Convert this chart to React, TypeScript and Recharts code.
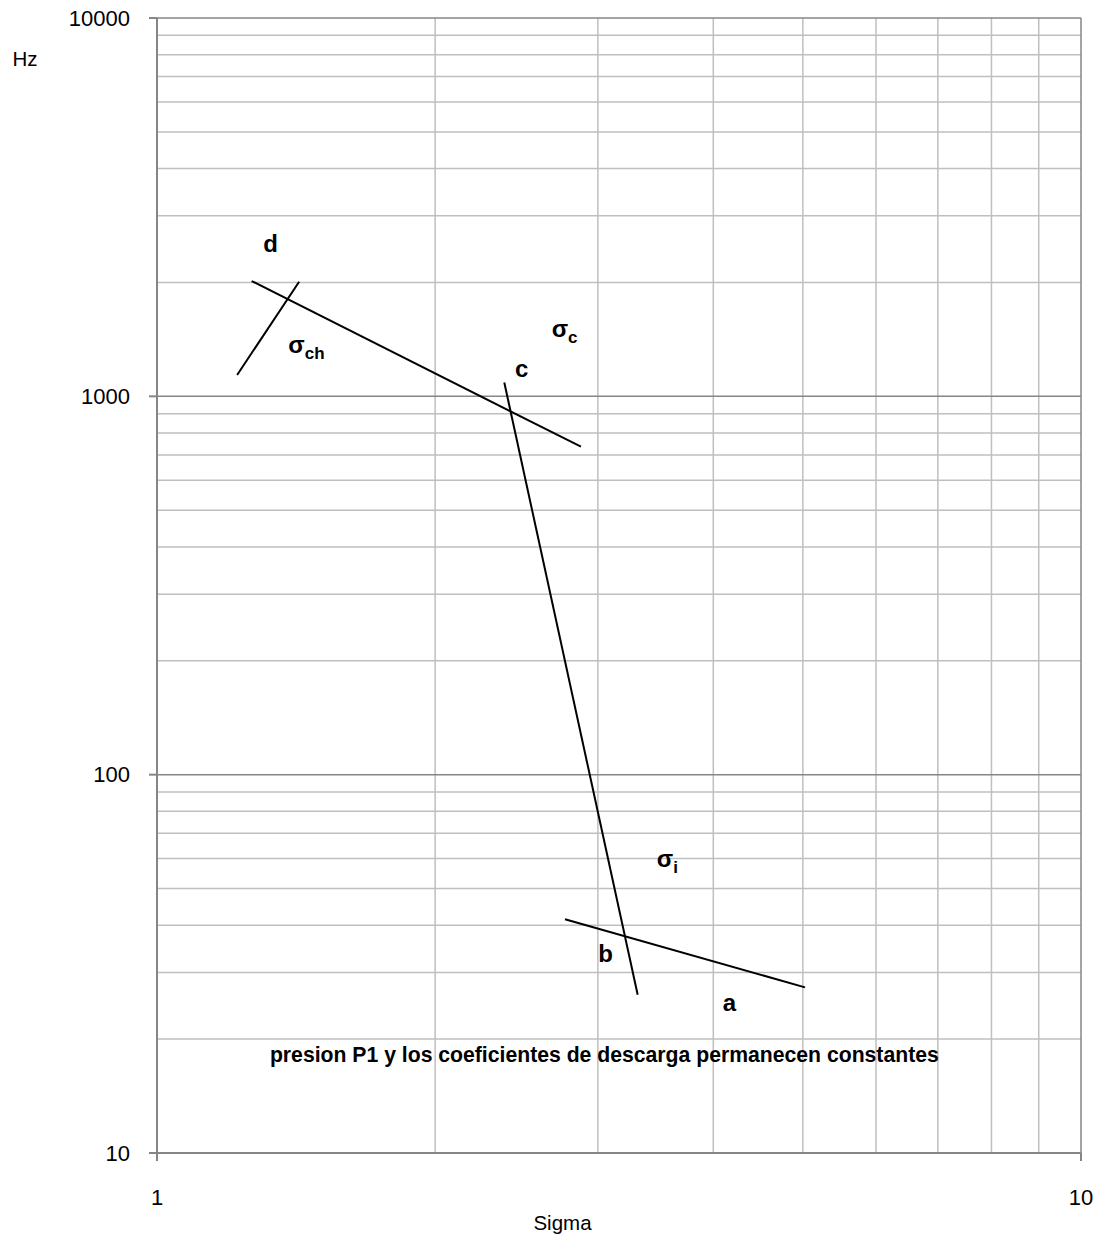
import { LineChart, Line, XAxis, YAxis, ReferenceLine, Scatter, Label } from "recharts"

// axis ticks
const xTicks = [1, 10]
const yTicks = [10, 100, 1000, 10000]

// log grid
const xMinorGrid = [2, 3, 4, 5, 6, 7, 8, 9]
const xMajorGrid = [10]
const yMinorGrid = [20, 30, 40, 50, 60, 70, 80, 90, 200, 300, 400, 500, 600, 700, 800, 900, 2000, 3000, 4000, 5000, 6000, 7000, 8000, 9000]
const yMajorGrid = [100, 1000, 10000]

// straight segments (Sigma, Hz)
const lineDC = [
  { x: 1.266, y: 2017 },
  { x: 2.876, y: 736 },
]
const lineCH = [
  { x: 1.221, y: 1139 },
  { x: 1.425, y: 2009 },
]
const lineCB = [
  { x: 2.376, y: 1088 },
  { x: 3.313, y: 26.2 },
]
const lineAB = [
  { x: 2.764, y: 41.5 },
  { x: 5.027, y: 27.4 },
]

// annotations: anchor is the text baseline start
const annotations = [
  { x: 1.303, y: 2412, main: "d", sub: "" },
  { x: 1.387, y: 1299, main: "σ", sub: "ch" },
  { x: 2.674, y: 1432, main: "σ", sub: "c" },
  { x: 2.44, y: 1123, main: "c", sub: "" },
  { x: 3.474, y: 57.1, main: "σ", sub: "i" },
  { x: 3.003, y: 32.0, main: "b", sub: "" },
  { x: 4.095, y: 23.8, main: "a", sub: "" },
]
const note = [{ x: 1.325, y: 17.43, main: "presion P1 y los coeficientes de descarga permanecen constantes", sub: "" }]

const FONT = "'Liberation Sans', Arial, sans-serif"
const AXIS = "#868686"
const MINOR = "#bfbfbf"

function AnnotationShape(props: any) {
  const { cx, cy, payload } = props
  if (cx == null || cy == null) return null
  return (
    <text x={cx} y={cy} fontFamily={FONT} fontWeight="bold" fontSize={24} fill="#000">
      {payload.main}
      {payload.sub ? (
        <tspan fontSize={17} dy={6}>
          {payload.sub}
        </tspan>
      ) : null}
    </text>
  )
}

function NoteShape(props: any) {
  const { cx, cy, payload } = props
  if (cx == null || cy == null) return null
  return (
    <text x={cx} y={cy} fontFamily={FONT} fontWeight="bold" fontSize={21.2} fill="#000">
      {payload.main}
    </text>
  )
}

export default function App() {
  return (
    <div style={{ position: "absolute", left: 0, top: 0, background: "#fff" }}>
      <LineChart width={1099} height={1236} margin={{ top: 18, right: 18, bottom: 0, left: 0 }}>
        <XAxis
          dataKey="x"
          type="number"
          scale="log"
          domain={[1, 10]}
          ticks={xTicks}
          allowDataOverflow
          height={83}
          stroke={AXIS}
          strokeWidth={2}
          tickSize={8}
          tickMargin={28}
          tick={{ fill: "#000", fontSize: 22, fontFamily: FONT }}
        >
          <Label
            content={(p: any) => (
              <text
                x={p.viewBox.x + 405.5}
                y={p.viewBox.y + 69}
                textAnchor="middle"
                dominantBaseline="central"
                fontFamily={FONT}
                fontSize={20.5}
                fill="#000"
              >
                Sigma
              </text>
            )}
          />
        </XAxis>
        <YAxis
          dataKey="y"
          type="number"
          scale="log"
          domain={[10, 10000]}
          ticks={yTicks}
          allowDataOverflow
          width={157}
          stroke={AXIS}
          strokeWidth={2}
          tickSize={8}
          tickMargin={19}
          tick={{ fill: "#000", fontSize: 22, fontFamily: FONT }}
        >
          <Label
            content={(p: any) => (
              <text
                x={p.viewBox.x + 25}
                y={p.viewBox.y + 40}
                textAnchor="middle"
                dominantBaseline="central"
                fontFamily={FONT}
                fontSize={20.5}
                fill="#000"
              >
                Hz
              </text>
            )}
          />
        </YAxis>

        {xMinorGrid.map((v) => (
          <ReferenceLine key={"xm" + v} x={v} stroke={MINOR} strokeWidth={1.5} />
        ))}
        {yMinorGrid.map((v) => (
          <ReferenceLine key={"ym" + v} y={v} stroke={MINOR} strokeWidth={1.5} />
        ))}
        {yMajorGrid.map((v) => (
          <ReferenceLine key={"yM" + v} y={v} stroke={AXIS} strokeWidth={1.5} />
        ))}
        {xMajorGrid.map((v) => (
          <ReferenceLine key={"xM" + v} x={v} stroke={AXIS} strokeWidth={1.5} />
        ))}

        <Line data={lineDC} dataKey="y" stroke="#000" strokeWidth={2} dot={false} isAnimationActive={false} />
        <Line data={lineCH} dataKey="y" stroke="#000" strokeWidth={2} dot={false} isAnimationActive={false} />
        <Line data={lineCB} dataKey="y" stroke="#000" strokeWidth={2} dot={false} isAnimationActive={false} />
        <Line data={lineAB} dataKey="y" stroke="#000" strokeWidth={2} dot={false} isAnimationActive={false} />

        <Scatter data={annotations} dataKey="y" shape={AnnotationShape} isAnimationActive={false} />
        <Scatter data={note} dataKey="y" shape={NoteShape} isAnimationActive={false} />
      </LineChart>
    </div>
  )
}
